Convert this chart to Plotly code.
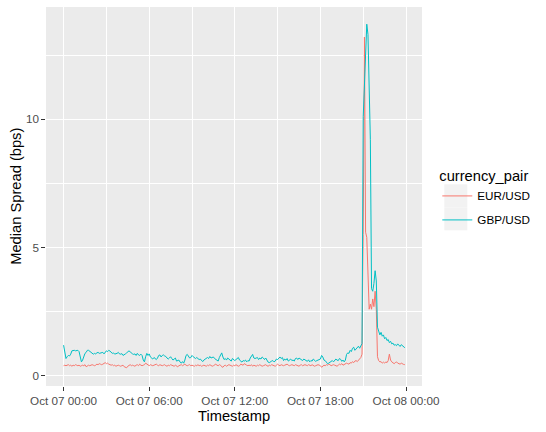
import pandas as pd
import plotly.graph_objects as go

# ---- data (5-minute medians) ----
start_time = "2019-10-07 00:00"
n_points = 288
currency_pairs = ["EUR/USD", "GBP/USD"]
pair_colors = ["#F8766D", "#00BFC4"]

eur_usd = [
    0.40, 0.42, 0.40, 0.42, 0.44, 0.40, 0.42, 0.38, 0.42, 0.40, 0.44, 0.42,
    0.40, 0.42, 0.38, 0.40, 0.42, 0.40, 0.44, 0.36, 0.40, 0.42, 0.40, 0.42,
    0.44, 0.42, 0.40, 0.42, 0.46, 0.44, 0.48, 0.46, 0.44, 0.46, 0.50, 0.52,
    0.48, 0.50, 0.46, 0.44, 0.42, 0.44, 0.40, 0.42, 0.38, 0.40, 0.42, 0.40,
    0.38, 0.40, 0.42, 0.36, 0.34, 0.32, 0.38, 0.42, 0.44, 0.40, 0.42, 0.40,
    0.38, 0.42, 0.44, 0.40, 0.46, 0.42, 0.40, 0.42, 0.44, 0.50, 0.46, 0.42,
    0.40, 0.44, 0.42, 0.40, 0.42, 0.44, 0.46, 0.42, 0.40, 0.44, 0.42, 0.40,
    0.42, 0.44, 0.40, 0.38, 0.42, 0.40, 0.44, 0.42, 0.40, 0.38, 0.42, 0.40,
    0.36, 0.40, 0.42, 0.44, 0.40, 0.42, 0.46, 0.42, 0.40, 0.42, 0.44, 0.40,
    0.42, 0.40, 0.38, 0.42, 0.40, 0.44, 0.40, 0.42, 0.38, 0.40, 0.42, 0.40,
    0.38, 0.42, 0.40, 0.44, 0.40, 0.38, 0.40, 0.42, 0.46, 0.42, 0.40, 0.44,
    0.42, 0.36, 0.34, 0.40, 0.42, 0.38, 0.40, 0.44, 0.42, 0.40, 0.38, 0.42,
    0.40, 0.44, 0.42, 0.38, 0.40, 0.46, 0.44, 0.42, 0.48, 0.44, 0.42, 0.40,
    0.42, 0.40, 0.44, 0.38, 0.42, 0.40, 0.38, 0.42, 0.40, 0.44, 0.42, 0.38,
    0.40, 0.42, 0.44, 0.40, 0.38, 0.42, 0.40, 0.44, 0.42, 0.40, 0.38, 0.42,
    0.46, 0.42, 0.40, 0.44, 0.42, 0.40, 0.42, 0.44, 0.46, 0.42, 0.40, 0.42,
    0.44, 0.42, 0.40, 0.44, 0.42, 0.40, 0.38, 0.42, 0.44, 0.40, 0.42, 0.44,
    0.42, 0.40, 0.44, 0.42, 0.40, 0.44, 0.42, 0.38, 0.40, 0.42, 0.44, 0.42,
    0.40, 0.34, 0.38, 0.42, 0.40, 0.44, 0.42, 0.46, 0.44, 0.40, 0.42, 0.44,
    0.42, 0.40, 0.38, 0.42, 0.46, 0.44, 0.48, 0.42, 0.44, 0.46, 0.50, 0.48,
    0.46, 0.52, 0.50, 0.56, 0.52, 0.58, 0.60, 0.56, 0.62, 0.66, 0.72, 0.85,
    5.50, 13.2, 5.60, 5.40, 3.60, 2.60, 2.80, 2.60, 3.00, 2.70, 3.30, 2.60,
    0.75, 0.60, 0.55, 0.56, 0.50, 0.54, 0.50, 0.55, 0.52, 0.60, 0.85, 0.62,
    0.55, 0.50, 0.48, 0.52, 0.55, 0.50, 0.48, 0.46, 0.50, 0.46, 0.45, 0.44,
]

gbp_usd = [
    1.20, 0.95, 0.68, 0.75, 0.80, 0.78, 0.85, 0.98, 1.00, 1.00, 0.98, 1.00,
    1.00, 0.95, 0.70, 0.55, 0.62, 0.80, 0.88, 0.92, 1.00, 1.00, 0.97, 0.92,
    0.88, 0.85, 0.88, 0.86, 0.90, 0.92, 0.88, 0.90, 0.93, 0.92, 0.86, 0.92,
    0.98, 0.95, 1.00, 0.97, 0.92, 0.88, 0.90, 0.85, 0.87, 0.88, 0.92, 0.86,
    0.85, 0.87, 0.80, 0.82, 0.86, 0.90, 0.95, 0.98, 0.94, 0.88, 0.86, 0.84,
    0.86, 0.80, 0.88, 0.82, 0.80, 0.85, 0.80, 0.62, 0.55, 0.75, 0.88, 0.80,
    0.86, 0.74, 0.70, 0.66, 0.72, 0.68, 0.64, 0.70, 0.80, 0.82, 0.74, 0.80,
    0.82, 0.78, 0.76, 0.70, 0.66, 0.70, 0.75, 0.68, 0.62, 0.66, 0.70, 0.58,
    0.60, 0.62, 0.54, 0.50, 0.56, 0.50, 0.62, 0.80, 0.84, 0.74, 0.70, 0.72,
    0.80, 0.75, 0.72, 0.68, 0.72, 0.66, 0.64, 0.66, 0.60, 0.56, 0.62, 0.66,
    0.70, 0.72, 0.68, 0.76, 0.70, 0.72, 0.74, 0.68, 0.64, 0.60, 0.58, 0.72,
    0.80, 0.90, 0.74, 0.64, 0.68, 0.62, 0.70, 0.66, 0.64, 0.58, 0.68, 0.62,
    0.60, 0.64, 0.68, 0.72, 0.62, 0.58, 0.54, 0.60, 0.58, 0.62, 0.55, 0.60,
    0.58, 0.70, 0.76, 0.84, 0.70, 0.68, 0.70, 0.72, 0.64, 0.70, 0.66, 0.74,
    0.70, 0.64, 0.70, 0.60, 0.54, 0.52, 0.56, 0.58, 0.60, 0.55, 0.58, 0.66,
    0.64, 0.70, 0.74, 0.68, 0.72, 0.60, 0.66, 0.62, 0.68, 0.58, 0.62, 0.66,
    0.60, 0.62, 0.58, 0.68, 0.70, 0.64, 0.70, 0.66, 0.62, 0.60, 0.66, 0.62,
    0.60, 0.57, 0.63, 0.55, 0.60, 0.58, 0.66, 0.60, 0.57, 0.60, 0.61, 0.63,
    0.66, 0.80, 0.74, 0.62, 0.60, 0.54, 0.48, 0.50, 0.53, 0.58, 0.60, 0.55,
    0.60, 0.66, 0.62, 0.60, 0.68, 0.65, 0.57, 0.62, 0.55, 0.62, 0.84, 0.90,
    0.88, 1.00, 0.95, 1.08, 1.12, 1.00, 1.05, 1.10, 1.16, 1.08, 1.20, 1.26,
    10.1, 11.6, 13.1, 13.7, 13.3, 10.9, 9.20, 3.40, 3.30, 3.60, 4.10, 3.70,
    1.90, 1.75, 1.60, 1.70, 1.55, 1.60, 1.45, 1.50, 1.38, 1.42, 1.30, 1.35,
    1.25, 1.28, 1.20, 1.22, 1.18, 1.25, 1.20, 1.15, 1.22, 1.18, 1.12, 1.10,
]

x_tick_step_hours = 6
y_tick_values = [0, 5, 10]

timestamps = pd.date_range(start=start_time, periods=n_points, freq="5min")
series = [eur_usd, gbp_usd]

fig = go.Figure()
for name, color, vals in zip(currency_pairs, pair_colors, series):
    fig.add_trace(go.Scatter(
        x=timestamps, y=vals, mode="lines", name=name, legendgroup=name,
        line=dict(color=color, width=1.0),
    ))

# plot area in pixels (ggplot-like)
W, H = 546, 432
pl, pr, pt, pb = 45.7, 421.7, 6.7, 385.7
pw, ph = pr - pl, pb - pt

t0 = pd.Timestamp(start_time)
x_left = t0 - pd.Timedelta(hours=1.233)
x_right = t0 + pd.Timedelta(hours=25.12)

# legend key backgrounds (ggplot grey95 key boxes)
key_x0, key_x1 = 444, 467
key_rows = [(184, 207), (207, 230)]
shapes = [
    dict(type="rect", xref="paper", yref="paper", layer="below",
         x0=(key_x0 - pl) / pw, x1=(key_x1 - pl) / pw,
         y0=(pb - b) / ph, y1=(pb - t) / ph,
         fillcolor="#F2F2F2", line=dict(width=0))
    for (t, b) in key_rows
]

fig.update_layout(
    width=W, height=H,
    margin=dict(l=pl, r=W - pr, t=pt, b=H - pb, pad=0, autoexpand=False),
    paper_bgcolor="white",
    plot_bgcolor="#EBEBEB",
    font=dict(family="Liberation Sans, Arial, sans-serif", color="#4D4D4D"),
    showlegend=True,
    legend=dict(
        title=dict(text="currency_pair", font=dict(size=14.7, color="black")),
        font=dict(size=11.7, color="black"),
        x=(437 - pl) / pw, xanchor="left",
        y=(pb - 162) / ph, yanchor="top",
        bgcolor="rgba(0,0,0,0)",
        itemwidth=30,
        traceorder="grouped",
        tracegroupgap=5,
    ),
    shapes=shapes,
    xaxis=dict(
        type="date",
        range=[x_left, x_right],
        tick0=t0, dtick=x_tick_step_hours * 3600 * 1000,
        tickformat="%b %d %H:%M",
        tickfont=dict(size=11.7, color="#4D4D4D"),
        ticks="outside", ticklen=3.7, tickwidth=1.07, tickcolor="#333333",
        showgrid=True, gridcolor="white", gridwidth=1.4,
        minor=dict(dtick=3 * 3600 * 1000, tick0=t0, showgrid=True,
                   gridcolor="white", gridwidth=0.7, ticks=""),
        zeroline=False, showline=False,
    ),
    yaxis=dict(
        range=[-0.39, 14.37],
        tickvals=y_tick_values,
        tickfont=dict(size=11.7, color="#4D4D4D"),
        ticks="outside", ticklen=3.7, tickwidth=1.07, tickcolor="#333333",
        showgrid=True, gridcolor="white", gridwidth=1.4,
        minor=dict(dtick=2.5, tick0=0, showgrid=True,
                   gridcolor="white", gridwidth=0.7, ticks=""),
        zeroline=False, showline=False,
    ),
    annotations=[
        dict(text="Timestamp", xref="paper", yref="paper",
             x=0.5, y=(pb - 416) / ph, xanchor="center", yanchor="middle",
             showarrow=False, font=dict(size=14.7, color="black")),
        dict(text="Median Spread (bps)", xref="paper", yref="paper",
             x=(15 - pl) / pw, y=0.5, xanchor="center", yanchor="middle",
             textangle=-90, showarrow=False,
             font=dict(size=14.7, color="black")),
    ],
)

fig.write_html("out.html",
               config={"displayModeBar": False},
               post_script="document.body.style.margin='0px';")
